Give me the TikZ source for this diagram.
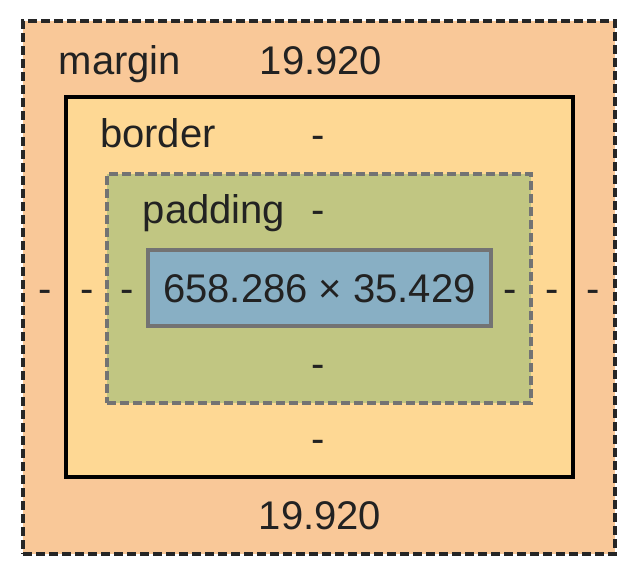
\documentclass[tikz,border=0pt]{standalone}
\usepackage{fontspec}
\setmainfont{Liberation Sans}
\definecolor{marginc}{HTML}{F9C898}
\definecolor{borderc}{HTML}{FED894}
\definecolor{paddingc}{HTML}{C1C682}
\definecolor{contentc}{HTML}{88AFC4}
\definecolor{txt}{HTML}{222222}
\tikzset{
  boxbase/.style={inner sep=0pt, outer sep=0pt, line width=3.5pt},
  marginbox/.style={boxbase, fill=marginc, draw=black!85, dash pattern=on 9pt off 4pt},
  borderbox/.style={boxbase, fill=borderc, draw=black},
  paddingbox/.style={boxbase, fill=paddingc, draw=black!55, dash pattern=on 9pt off 4pt},
  contentbox/.style={boxbase, fill=contentc, draw=black!55},
  lbl/.style={text=txt, anchor=base, inner sep=0pt, font=\fontsize{40}{46}\selectfont},
}
\begin{document}
\begin{tikzpicture}[x=1pt,y=-1pt]
\useasboundingbox (0,0) rectangle (643,572);
\fill[white] (0,0) rectangle (643,572);
\node[marginbox, minimum width=592pt, minimum height=533pt] (mbox) at (319,287.5) {};
\node[borderbox, minimum width=507pt, minimum height=380pt] (bbox) at (319.5,287) {};
\node[paddingbox, minimum width=424pt, minimum height=229pt] (pbox) at (319,288.5) {};
\node[contentbox, minimum width=343pt, minimum height=76pt] (cbox) at (319.5,288) {};
% labels
\node[lbl] (mlabel) at (120,75) {margin};
\node[lbl] (mtop) at (321,75) {19.920};
\node[lbl] (blabel) at (158,148) {border};
\node[lbl] (btop) at (318,149) {-};
\node[lbl] (plabel) at (214,224) {padding};
\node[lbl] (ptop) at (318,224) {-};
\node[lbl] (ctext) at (319.5,302) {658.286 × 35.429};
\node[lbl] (ml) at (45,302) {-};
\node[lbl] (bl) at (87,302) {-};
\node[lbl] (pl) at (127,302) {-};
\node[lbl] (pr) at (510,302) {-};
\node[lbl] (br) at (552,302) {-};
\node[lbl] (mr) at (593,302) {-};
\node[lbl] (pbot) at (318,377) {-};
\node[lbl] (bbot) at (318,452) {-};
\node[lbl] (mbot) at (320,529) {19.920};
\end{tikzpicture}
\end{document}
